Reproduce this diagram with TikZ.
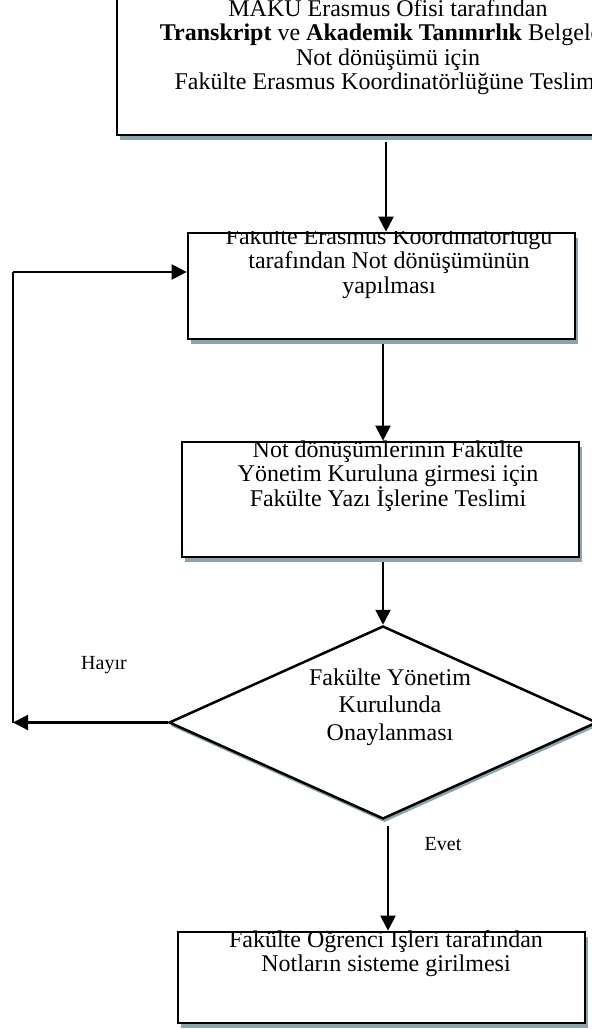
\documentclass[tikz,border=0pt]{standalone}
\usepackage{fontspec}
\setmainfont{Liberation Serif}
\usetikzlibrary{arrows.meta,shapes.geometric,shadows}
\definecolor{shc}{RGB}{140,164,172}
\newcommand\txtlines[1]{\vtop{\lineskiplimit=-100pt\lineskip=0pt\halign{\hfil##\hfil\cr#1\crcr}}}
\begin{document}
\begin{tikzpicture}[x=1pt,y=-1pt,
  boxst/.style={draw=black,line width=2.7pt,fill=white,rectangle,inner sep=0pt,
    drop shadow={shadow xshift=3pt,shadow yshift=-4.5pt,fill=shc,opacity=1}},
  decst/.style={draw=black,line width=2.5pt,fill=white,diamond,inner sep=0pt,
    drop shadow={shadow xshift=1.5pt,shadow yshift=-3.5pt,fill=shc,opacity=1}},
  txt/.style={anchor=base,inner sep=0pt,font=\fontsize{24}{24.6}\selectfont},
  dtxt/.style={anchor=base,inner sep=0pt,font=\fontsize{24}{27.6}\selectfont},
  lbl/.style={anchor=base,inner sep=0pt,font=\fontsize{20}{23}\selectfont},
  arr/.style={line width=2.2pt,-{Triangle[width=15pt,length=15pt]}},
  ln/.style={line width=2.2pt}]
\useasboundingbox (0,0) rectangle (592,1029);
\clip (0,0) rectangle (592,1029);
% boxes
\node[boxst,minimum width=546pt,minimum height=175pt] (b1) at (390,47.5) {};
\node[boxst,minimum width=387pt,minimum height=106pt] (b2) at (381.5,286) {};
\node[boxst,minimum width=397pt,minimum height=115pt] (b3) at (380.5,499.5) {};
\node[decst,minimum width=428pt,minimum height=193pt] (d) at (383,722.5) {};
\node[boxst,minimum width=407pt,minimum height=91pt] (b5) at (381.5,977.5) {};
% texts
\begin{scope}
\clip (b1.north west) rectangle (b1.south east);
\node[txt] (t1) at (388,16) {\txtlines{MAKÜ Erasmus Ofisi tarafından\cr
  \textbf{Transkript} ve \textbf{Akademik Tanınırlık} Belgeleri\cr
  Not dönüşümü için\cr
  Fakülte Erasmus Koordinatörlüğüne Teslimi}};
\end{scope}
\begin{scope}
\clip (b2.north west) rectangle (b2.south east);
\node[txt] (t2) at (389,244) {\txtlines{Fakülte Erasmus Koordinatörlüğü\cr
  tarafından Not dönüşümünün\cr yapılması}};
\end{scope}
\begin{scope}
\clip (b3.north west) rectangle (b3.south east);
\node[txt] (t3) at (388,457) {\txtlines{Not dönüşümlerinin Fakülte\cr
  Yönetim Kuruluna girmesi için\cr Fakülte Yazı İşlerine Teslimi}};
\end{scope}
\node[dtxt] (td) at (390,685) {\txtlines{Fakülte Yönetim\cr Kurulunda\cr Onaylanması}};
\begin{scope}
\clip (b5.north west) rectangle (b5.south east);
\node[txt] (t5) at (386,947) {\txtlines{Fakülte Öğrenci İşleri tarafından\cr
  Notların sisteme girilmesi}};
\end{scope}
% labels
\node[lbl] (hayir) at (104,669) {Hayır};
\node[lbl] (evet) at (443,850) {Evet};
% helper coordinates
\coordinate (x1) at (386,0);
\coordinate (x4) at (388,0);
\coordinate (lpx) at (13,725);
\coordinate (lp2) at (13,272);
% connectors
\draw[arr,shorten <=6pt] (b1.south -| x1) -- (b2.north -| x1);
\draw[arr,shorten <=4pt] (b2.south -| d.north) -- (b3.north -| d.north);
\draw[arr,shorten <=4pt] (b3.south -| d.north) -- (d.north);
\draw[arr,shorten <=6pt] (d.south -| x4) -- (b5.north -| x4);
\draw[arr] (d.west) -- (d.west -| lpx);
\draw[ln] (d.west -| lpx) -- (lp2);
\draw[arr] (lp2) -- (lp2 -| b2.west);
\end{tikzpicture}
\end{document}
